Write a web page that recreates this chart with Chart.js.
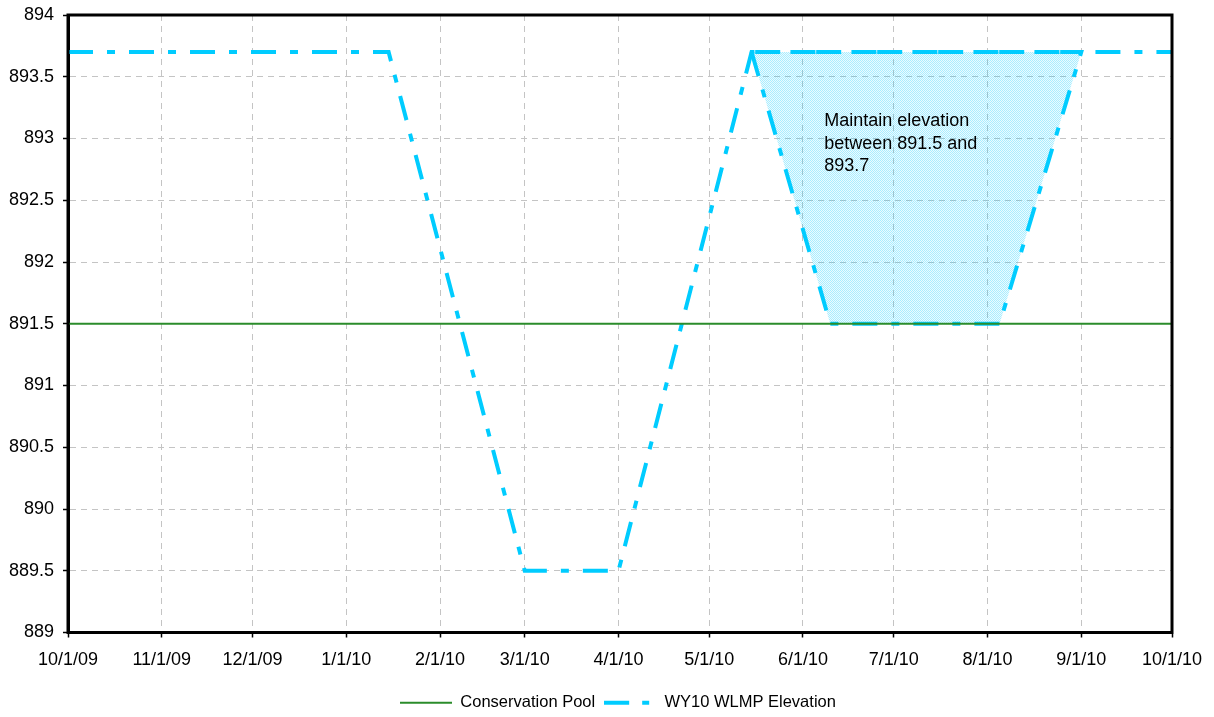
<!DOCTYPE html>
<html>
<head>
<meta charset="utf-8">
<script src="https://cdn.jsdelivr.net/npm/chart.js@4.4.1/dist/chart.umd.min.js"></script>
<style>
  html, body { margin: 0; background: #fff; }
  #wrap { width: 1214px; height: 717px; }
</style>
</head>
<body>
<div id="wrap"><canvas id="chart" width="1214" height="717"></canvas></div>
<script>
/* Elevações do reservatório WY10 */
const tickDates  = ["2009-10-01","2009-11-01","2009-12-01","2010-01-01","2010-02-01","2010-03-01",
                    "2010-04-01","2010-05-01","2010-06-01","2010-07-01","2010-08-01","2010-09-01","2010-10-01"];
const tickLabels = ["10/1/09","11/1/09","12/1/09","1/1/10","2/1/10","3/1/10",
                    "4/1/10","5/1/10","6/1/10","7/1/10","8/1/10","9/1/10","10/1/10"];

const poolDates  = ["2009-10-01","2010-10-01"];
const poolValues = [891.5, 891.5];

const wlmpDates  = ["2009-10-01","2010-01-15","2010-03-01","2010-04-01","2010-05-15","2010-10-01"];
const wlmpValues = [893.7, 893.7, 889.5, 889.5, 893.7, 893.7];

const bandDates  = ["2010-05-15","2010-06-10","2010-08-05","2010-09-01","2010-05-15"];
const bandValues = [893.7, 891.5, 891.5, 893.7, 893.7];

const noteLines = ["Maintain elevation", "between 891.5 and", "893.7"];
const noteDate  = "2010-06-08";
const noteValue = 893.14;

const yMin = 889, yMax = 894, yStep = 0.5;

const T0 = Date.UTC(2009, 9, 1);
const day = s => (Date.parse(s + "T00:00:00Z") - T0) / 864e5;
const pts = (ds, vs) => ds.map((d, i) => ({ x: day(d), y: vs[i] }));
const tickDays = tickDates.map(day);

const CYAN = "#00ccff", GREEN = "#2b8c2b";
const DASHDOT = [25, 14, 8, 14];
const FONT = "'Liberation Sans', Arial, sans-serif";

// amostras da legenda (o Chart.js não tracejeia pointStyle 'line')
function sample(color, width, dash) {
  const c = document.createElement("canvas"); c.width = 52; c.height = 6;
  const g = c.getContext("2d");
  g.strokeStyle = color; g.lineWidth = width; g.setLineDash(dash);
  g.beginPath(); g.moveTo(0, 3); g.lineTo(52, 3); g.stroke();
  return c;
}
// textura pontilhada do preenchimento
function dots() {
  const c = document.createElement("canvas"); c.width = 2; c.height = 2;
  const g = c.getContext("2d");
  g.fillStyle = "rgba(0,200,255,0.08)"; g.fillRect(0, 0, 2, 2);
  g.fillStyle = "rgba(0,200,255,0.28)"; g.fillRect(0, 0, 1, 1); g.fillRect(1, 1, 1, 1);
  return g.createPattern(c, "repeat");
}

const framePlugin = {
  id: "frame",
  afterLayout(c) { c.legend.left = c.chartArea.left - 4; },   // legenda centrada como no Excel
  afterDraw(c) {
    const a = c.chartArea, ctx = c.ctx;
    ctx.save();
    ctx.strokeStyle = "#000"; ctx.lineWidth = 3; ctx.setLineDash([]);
    ctx.strokeRect(a.left, a.top, a.right - a.left, a.bottom - a.top);
    ctx.restore();
  }
};

const notePlugin = {
  id: "note",
  afterDatasetsDraw(c) {
    const ctx = c.ctx, x = c.scales.x.getPixelForValue(day(noteDate)), y = c.scales.y.getPixelForValue(noteValue);
    ctx.save();
    ctx.fillStyle = "#000"; ctx.font = "18px " + FONT;
    ctx.textAlign = "left"; ctx.textBaseline = "middle";
    noteLines.forEach((t, i) => ctx.fillText(t, x, y + i * 22.5));
    ctx.restore();
  }
};

const noPad = s => { s.paddingTop = s.paddingBottom = s.paddingLeft = s.paddingRight = 0; };

new Chart(document.getElementById("chart"), {
  type: "line",
  data: {
    datasets: [
      { label: "Conservation Pool", data: pts(poolDates, poolValues),
        borderColor: GREEN, backgroundColor: GREEN, borderWidth: 2, pointRadius: 0, fill: false,
        pointStyle: sample(GREEN, 2, []) },
      { label: "WY10 WLMP Elevation", data: pts(wlmpDates, wlmpValues),
        borderColor: CYAN, backgroundColor: CYAN, borderWidth: 4, borderDash: DASHDOT, pointRadius: 0, fill: false,
        pointStyle: sample(CYAN, 4, [25, 13, 7, 20]) },
      { label: "band", data: pts(bandDates, bandValues),
        borderColor: CYAN, backgroundColor: dots(), borderWidth: 4, borderDash: DASHDOT,
        pointRadius: 0, fill: "shape" }
    ]
  },
  options: {
    responsive: false,
    animation: false,
    layout: { padding: { left: 0, right: 42, top: 15, bottom: -4 } },
    plugins: {
      tooltip: { enabled: false },
      legend: {
        position: "bottom",
        labels: {
          filter: it => it.text !== "band",
          usePointStyle: true, pointStyleWidth: 52,
          padding: 9, color: "#000", font: { size: 16.5, family: FONT }
        }
      }
    },
    scales: {
      x: {
        type: "linear", min: tickDays[0], max: tickDays[tickDays.length - 1],
        afterBuildTicks: s => { s.ticks = tickDays.map(v => ({ value: v })); },
        afterFit: s => { s.height = 53; noPad(s); },
        ticks: { autoSkip: false, maxRotation: 0, padding: 12, color: "#000", font: { size: 18, family: FONT },
                 callback: v => tickLabels[tickDays.indexOf(v)] },
        grid: { color: "#c4c4c4", lineWidth: 1, tickLength: 5, tickColor: "#000", tickWidth: 1.5 },
        border: { display: true, color: "#000", width: 3, dash: [6, 5] }
      },
      y: {
        min: yMin, max: yMax,
        afterFit: s => { s.width = 68; noPad(s); },
        ticks: { stepSize: yStep, padding: 9, color: "#000", font: { size: 18, family: FONT },
                 callback: v => String(Number(v.toFixed(2))) },
        grid: { color: "#c4c4c4", lineWidth: 1, tickLength: 5, tickColor: "#000", tickWidth: 1.5 },
        border: { display: true, color: "#000", width: 3, dash: [6, 5] }
      }
    }
  },
  plugins: [framePlugin, notePlugin]
});
</script>
</body>
</html>
